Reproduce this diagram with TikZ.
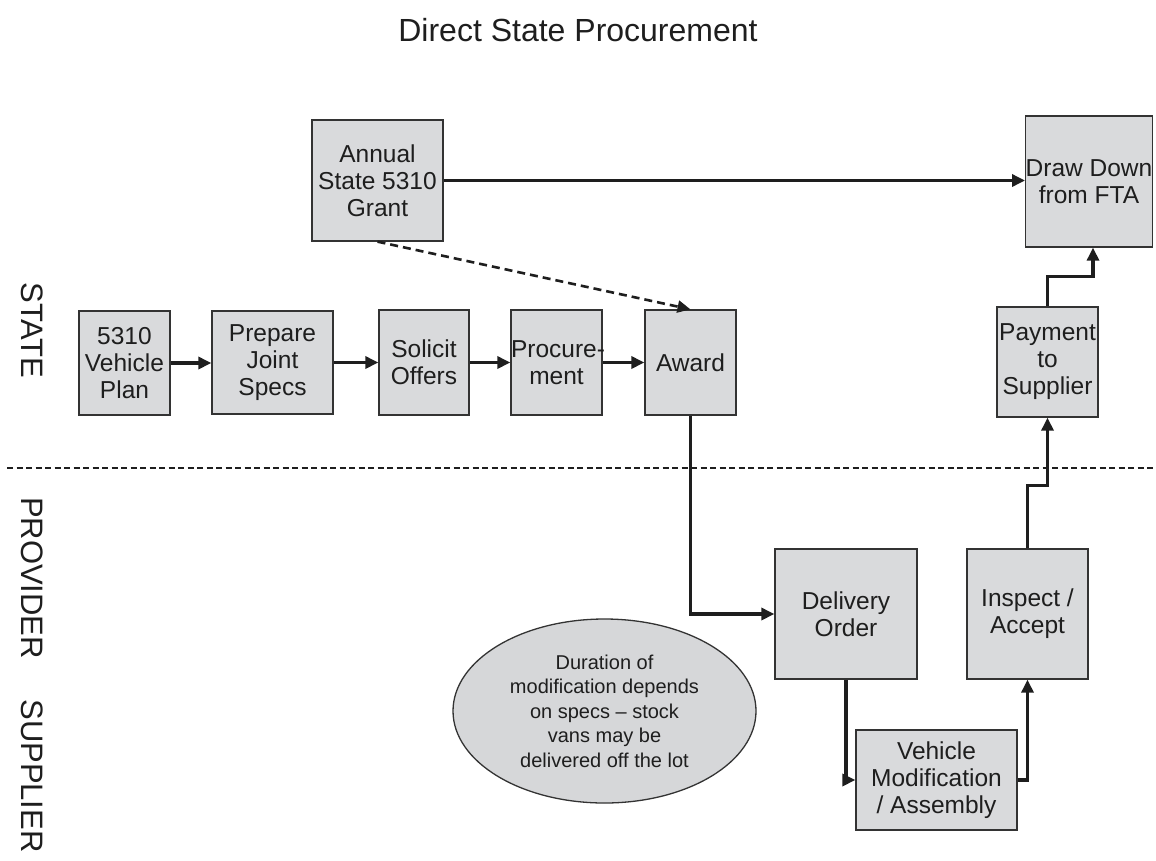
\documentclass[tikz,border=0pt]{standalone}
\usepackage{fontspec}
\setmainfont{Liberation Sans}
\usetikzlibrary{arrows.meta,shapes.geometric}
\definecolor{boxfill}{HTML}{D9DADC}
\definecolor{ovalfill}{HTML}{D6D7D9}
\definecolor{edge}{HTML}{333333}
\definecolor{ink}{HTML}{1E1E1E}

\begin{document}
\begin{tikzpicture}[x=1pt,y=-1pt,
  stepbox/.style={rectangle, draw=edge, line width=1.3pt, fill=boxfill,
    inner sep=0pt, align=center, text=ink,
    font=\fontsize{24.5}{27}\selectfont},
  note/.style={ellipse, draw=edge, line width=1.3pt, fill=ovalfill,
    inner sep=0pt, align=center, text=ink,
    font=\fontsize{20}{24.5}\selectfont},
  lane/.style={rotate=-90, text=ink, font=\fontsize{31}{36}\selectfont},
  flow/.style={draw=ink, line width=3.2pt,
    -{Triangle[length=13pt,width=12pt]}},
  optional/.style={flow, line width=2.6pt, dash pattern=on 8pt off 5pt},
  divider/.style={draw=ink, line width=2pt, dash pattern=on 6pt off 3.5pt}
]
\useasboundingbox (0,0) rectangle (1156,860);

% title and lane labels
\node[text=ink, font=\fontsize{32}{38}\selectfont] (title) at (578,30) {Direct State Procurement};
\node[lane] (lstate) at (32,330) {STATE};
\node[lane] (lprov) at (32,578) {PROVIDER};
\node[lane] (lsupp) at (32,776) {SUPPLIER};

% lane divider
\coordinate (divL) at (7,468);
\coordinate (divR) at (1156,468);
\draw[divider] (divL) -- (divR);

% state steps
\node[stepbox, minimum width=91pt, minimum height=104pt] (plan) at (124.5,363) {5310\\Vehicle\\Plan};
\node[stepbox, minimum width=121pt, minimum height=103pt] (prep) at (272.5,362.5) {Prepare\\Joint\\Specs};
\node[stepbox, minimum width=90pt, minimum height=105pt] (solicit) at (424,362.5) {Solicit\\Offers};
\node[stepbox, text width=91pt, minimum height=105pt] (proc) at (556.5,362.5) {\mbox{Procure-}\\ment};
\node[stepbox, minimum width=91pt, minimum height=105pt] (award) at (690.5,362.5) {Award};
\node[stepbox, minimum width=131pt, minimum height=121pt] (grant) at (377.5,180.5) {Annual\\State 5310\\Grant};
\node[stepbox, minimum width=124pt, minimum height=131pt] (draw) at (1089,181.5) {Draw Down\\from FTA};
\node[stepbox, minimum width=101pt, minimum height=110pt] (pay) at (1047.5,362) {Payment\\to\\Supplier};

% provider / supplier steps
\node[stepbox, minimum width=142pt, minimum height=130pt] (deliv) at (846,614) {Delivery\\Order};
\node[stepbox, minimum width=121pt, minimum height=130pt] (insp) at (1027.5,614) {Inspect /\\Accept};
\node[stepbox, minimum width=161pt, minimum height=100pt] (vm) at (936.5,780) {Vehicle\\Modification\\/ Assembly};
\node[note, minimum width=303pt, minimum height=184pt] (remark) at (604.5,711)
  {Duration of\\modification depends\\on specs -- stock\\vans may be\\delivered off the lot};

% connectors
\draw[flow] (plan.east) -- (plan.east -| prep.west);
\draw[flow] (prep.east) -- (prep.east -| solicit.west);
\draw[flow] (solicit.east) -- (solicit.east -| proc.west);
\draw[flow] (proc.east) -- (proc.east -| award.west);
\draw[flow] (grant.east) -- (grant.east -| draw.west);
\draw[optional] (grant.south) -- (award.north);
\draw[flow] (award.south) |- (deliv.west);
\draw[flow] (deliv.south) |- (vm.west);
\draw[flow] (vm.east) -| (insp.south);
\draw[flow] (insp.north) -- ++(0,-63) -| (pay.south);
\draw[flow] (pay.north) -- ++(0,-30) -| ([xshift=4pt]draw.south);
\end{tikzpicture}
\end{document}
